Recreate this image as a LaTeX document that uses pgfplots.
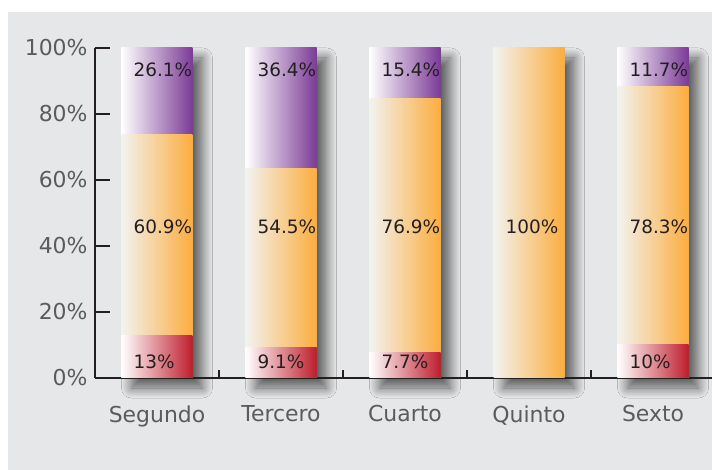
\documentclass[border=0pt]{standalone}
\usepackage{pgfplots}
\pgfplotsset{compat=1.18}
\usepackage{fontspec}
\setmainfont{DejaVu Sans}
\usetikzlibrary{shadows.blur}
\definecolor{bg}{HTML}{E6E7E8}
\definecolor{axc}{HTML}{231F20}
\definecolor{lab}{HTML}{5A5B5D}
\definecolor{pur}{HTML}{7B3B96}
\definecolor{orn}{HTML}{FBAD3F}
\definecolor{orl}{HTML}{F2F2F0}
\definecolor{red1}{HTML}{BE1E2D}
\tikzset{lbl/.style={anchor=west, font=\fontsize{18.5}{21}\selectfont, text=axc, inner sep=0pt}}
\pgfplotsset{
  base/.style={scale only axis, width=620bp, height=330bp,
    xmin=-0.5, xmax=4.5, ymin=0, ymax=100, at={(0,0)}, anchor=south west},
  seg/.style={ybar, bar width=71bp, bar shift=0pt, draw=none},
  P/.style={seg, left color=white, right color=pur},
  O/.style={seg, left color=orl, right color=orn},
  R/.style={seg, left color=white, right color=red1}}

\begin{document}
\begin{tikzpicture}
\path[use as bounding box] (-95bp,-92bp) rectangle (617bp,378bp);
\fill[bg] (-87bp,-92bp) rectangle (617bp,366bp);
\begin{axis}[base, hide axis, clip=false]
\addplot[seg, fill=white,
  blur shadow={shadow xshift=10bp, shadow yshift=-10bp, shadow blur radius=10bp, shadow opacity=60, shadow blur steps=16}]
  coordinates {(0,100) (1,100) (2,100) (3,100) (4,100)};
\end{axis}
\begin{axis}[base, clip=false,
  axis lines*=left, axis line style={axc, line width=1.5bp},
  tick align=inside, major tick length=15bp,
  tick style={axc, line width=1.5bp},
  ytick={0,20,...,100},
  yticklabel={\pgfmathprintnumber{\tick}\%},
  xtick={0.5,1.5,2.5,3.5}, xticklabels={},
  xtick style={/pgfplots/major tick length=8bp},
  extra x ticks={0,1,2,3,4},
  extra x tick labels={Segundo,Tercero,Cuarto,Quinto,Sexto},
  extra x tick style={/pgfplots/major tick length=0pt},
  ticklabel style={font=\fontsize{22}{26}\selectfont, text=lab},
  /pgf/number format/assume math mode=true,
  xticklabel style={yshift=-24bp},
  yticklabel style={xshift=-4bp}]
% Segundo: 13, 60.9, 26.1 (cumulative tops)
\addplot[P] coordinates {(0,100)};
\addplot[O] coordinates {(0,73.9)};
\addplot[R] coordinates {(0,13)};
% Tercero: 9.1, 54.5, 36.4
\addplot[P] coordinates {(1,100)};
\addplot[O] coordinates {(1,63.6)};
\addplot[R] coordinates {(1,9.1)};
% Cuarto: 7.7, 76.9, 15.4
\addplot[P] coordinates {(2,100)};
\addplot[O] coordinates {(2,84.6)};
\addplot[R] coordinates {(2,7.7)};
% Quinto: 0, 100, 0
\addplot[O] coordinates {(3,100)};
% Sexto: 10, 78.3, 11.7
\addplot[P] coordinates {(4,100)};
\addplot[O] coordinates {(4,88.3)};
\addplot[R] coordinates {(4,10)};
\node[lbl] at (axis cs:-0.19,93.3) {26.1\%};
\node[lbl] at (axis cs:0.81,93.3) {36.4\%};
\node[lbl] at (axis cs:1.81,93.3) {15.4\%};
\node[lbl] at (axis cs:3.81,93.3) {11.7\%};
\node[lbl] at (axis cs:-0.19,45.8) {60.9\%};
\node[lbl] at (axis cs:0.81,45.8) {54.5\%};
\node[lbl] at (axis cs:1.81,45.8) {76.9\%};
\node[lbl] at (axis cs:2.81,45.8) {100\%};
\node[lbl] at (axis cs:3.81,45.8) {78.3\%};
\node[lbl] at (axis cs:-0.19,4.85) {13\%};
\node[lbl] at (axis cs:0.81,4.85) {9.1\%};
\node[lbl] at (axis cs:1.81,4.85) {7.7\%};
\node[lbl] at (axis cs:3.81,4.85) {10\%};
\end{axis}
\end{tikzpicture}
\end{document}
